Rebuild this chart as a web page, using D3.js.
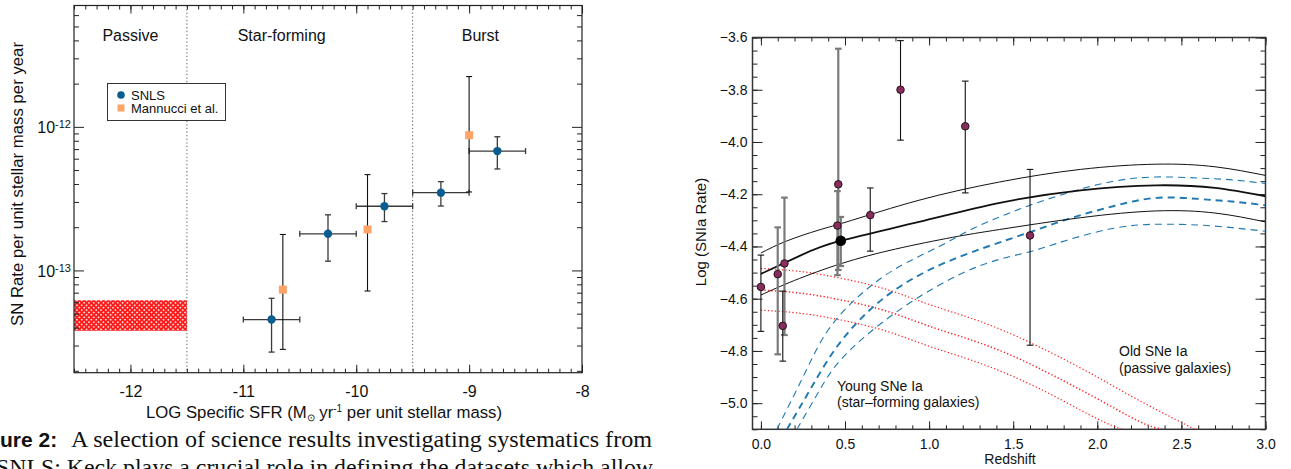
<!DOCTYPE html>
<html>
<head>
<meta charset="utf-8">
<script src="https://cdn.jsdelivr.net/npm/d3@7"></script>
<style>
  body { margin: 0; background: #fff; }
  svg { display: block; }
  text { font-family: "Liberation Sans", Arial, sans-serif; fill: #111; }
</style>
</head>
<body>
<svg width="1291" height="469"></svg>
<script>
// ---- Left panel data: SN rate per unit stellar mass vs specific SFR ----
const snlsSsfr   = [-10.75, -10.25, -9.75, -9.25, -8.75];
const snlsBinLo  = [-11.0, -10.5, -10.0, -9.5, -9.0];
const snlsBinHi  = [-10.5, -10.0, -9.5, -9.0, -8.5];
const snlsRate   = [4.55e-14, 1.80e-13, 2.80e-13, 3.48e-13, 6.78e-13];
const snlsHi     = [6.4e-14, 2.44e-13, 3.43e-13, 4.15e-13, 8.53e-13];
const snlsLo     = [2.7e-14, 1.16e-13, 2.19e-13, 2.81e-13, 5.09e-13];
const mannSsfr   = [-10.65, -9.9, -9.0];
const mannRate   = [7.35e-14, 1.93e-13, 8.75e-13];
const mannHi     = [1.78e-13, 4.65e-13, 2.24e-12];
const mannLo     = [2.82e-14, 7.19e-14, 3.52e-13];
const passiveSsfr = [-12.5, -11.5];
const passiveRate = [3.8e-14, 6.2e-14];
const regionEdges = [-11.5, -9.5];
const regionNames = ["Passive", "Star-forming", "Burst"];
const regionMid   = [-12.0, -10.66, -8.9];
const xTicksL = [-12, -11, -10, -9, -8];
const yTicksL = [1e-13, 1e-12];
const yTickExpL = ["-13", "-12"];

// ---- Right panel data: SNIa rate vs redshift ----
const rateZ    = [0.0, 0.10, 0.14, 0.13, 0.46, 0.455, 0.65, 0.83, 1.215, 1.60];
const rateLog  = [-4.555, -4.506, -4.465, -4.704, -4.162, -4.32, -4.28, -3.80, -3.94, -4.358];
const rateHi   = [-4.433, -4.327, -4.213, -4.571, -3.643, -4.188, -4.176, -3.612, -3.767, -4.105];
const rateLo   = [-4.725, -4.813, -4.739, -4.839, -4.49, -4.51, -4.418, -3.993, -4.195, -4.778];
const rateGrey = [false, true, true, false, true, true, false, false, false, false];
const snlsZ = [0.475], snlsLog = [-4.378], snlsLogHi = [-4.287], snlsLogLo = [-4.475];

const totalMid = [[0,-4.505],[0.24,-4.433],[0.475,-4.378],[0.94,-4.306],[1.42,-4.233],[1.9,-4.185],[2.35,-4.166],[2.7,-4.176],[3.0,-4.208]];
const totalUp  = [[0,-4.425],[0.15,-4.38],[0.34,-4.338],[0.54,-4.30],[0.94,-4.223],[1.42,-4.153],[1.9,-4.105],[2.35,-4.085],[2.7,-4.095],[3.0,-4.128]];
const totalLow = [[0,-4.586],[0.2,-4.53],[0.48,-4.465],[0.8,-4.41],[1.14,-4.365],[1.42,-4.335],[1.9,-4.29],[2.35,-4.264],[2.7,-4.272],[3.0,-4.306]];
const youngUp  = [[0.095,-5.10],[0.25,-4.90],[0.40,-4.72],[0.60,-4.58],[0.82,-4.478],[1.06,-4.40],[1.24,-4.338],[1.42,-4.287],[1.60,-4.242],[1.85,-4.19],[2.1,-4.15],[2.35,-4.134],[2.6,-4.138],[2.8,-4.145],[3.0,-4.159]];
const youngMid = [[0.155,-5.10],[0.30,-4.94],[0.48,-4.76],[0.74,-4.593],[1.04,-4.478],[1.34,-4.402],[1.60,-4.345],[1.85,-4.29],[2.1,-4.245],[2.35,-4.214],[2.6,-4.218],[2.8,-4.228],[3.0,-4.242]];
const youngLow = [[0.214,-5.10],[0.34,-4.96],[0.48,-4.83],[0.74,-4.682],[1.04,-4.555],[1.34,-4.465],[1.60,-4.42],[1.82,-4.376],[2.1,-4.33],[2.35,-4.315],[2.6,-4.318],[2.8,-4.328],[3.0,-4.342]];
const oldUp    = [[0,-4.484],[0.25,-4.497],[0.5,-4.525],[0.75,-4.565],[1.0,-4.622],[1.25,-4.675],[1.5,-4.738],[1.75,-4.815],[2.0,-4.90],[2.25,-4.99],[2.58,-5.10]];
const oldMid   = [[0,-4.567],[0.25,-4.58],[0.5,-4.608],[0.75,-4.648],[1.0,-4.705],[1.25,-4.758],[1.5,-4.82],[1.75,-4.898],[2.0,-4.983],[2.25,-5.07],[2.385,-5.10]];
const oldLow   = [[0,-4.644],[0.25,-4.657],[0.5,-4.685],[0.75,-4.725],[1.0,-4.782],[1.25,-4.835],[1.5,-4.898],[1.75,-4.975],[2.0,-5.06],[2.147,-5.10]];
const xTicksR = [0, 0.5, 1.0, 1.5, 2.0, 2.5, 3.0];
const yTicksR = [-5.0, -4.8, -4.6, -4.4, -4.2, -4.0, -3.8, -3.6];

const svg = d3.select("svg");
const defs = svg.append("defs");

// Scale the font of a label so it spans a given width.
function fitWidth (sel, w) {
    let n = sel.node().getComputedTextLength();
    sel.attr("font-size", parseFloat(sel.attr("font-size")) * w / n);
}

// Draw a set of inward ticks, without the axis line.
function tickAxis (g, axis, values, size, fmt, pad) {
    g.call(axis.tickValues(values).tickSize(-size).tickSizeOuter(0)
        .tickFormat(fmt).tickPadding(pad));
    g.select(".domain").remove();
    g.selectAll(".tick line").attr("stroke", "#222").attr("stroke-width", 1);
}

// =================== LEFT PANEL ===================
const xL = d3.scaleLinear().domain([-12.5, -8]).range([74, 582]);
const yL = d3.scaleLog().domain([1.94e-14, 7.0e-12]).range([372.7, 5.5]);
const left = svg.append("g");

// Crosshatched band for passive galaxies.
let pat = defs.append("pattern").attr("id", "hatch").attr("patternUnits", "userSpaceOnUse")
    .attr("width", 3.4).attr("height", 3.4).attr("patternTransform", "rotate(45)");
pat.append("rect").attr("width", 3.4).attr("height", 3.4).attr("fill", "#ff1a1a");
pat.append("rect").attr("x", 0.9).attr("y", 0.9).attr("width", 1.5).attr("height", 1.5).attr("fill", "#fff");
left.append("rect")
    .attr("x", xL(passiveSsfr[0])).attr("y", yL(passiveRate[1]))
    .attr("width", xL(passiveSsfr[1]) - xL(passiveSsfr[0]))
    .attr("height", yL(passiveRate[0]) - yL(passiveRate[1]))
    .attr("fill", "url(#hatch)");

// Dotted region boundaries.
left.selectAll(".edge").data(regionEdges).enter().append("line")
    .attr("x1", d => xL(d)).attr("x2", d => xL(d))
    .attr("y1", yL.range()[1]).attr("y2", yL.range()[0])
    .attr("stroke", "#555").attr("stroke-width", 1).attr("stroke-dasharray", "1.2,2.4");

left.selectAll(".region").data(regionNames).enter().append("text")
    .attr("x", (d, i) => xL(regionMid[i])).attr("y", 40.5)
    .attr("text-anchor", "middle").attr("font-size", 16).text(d => d);

// Axes with inward ticks on all four sides.
const minorXL = d3.range(-125, -79).map(d => d / 10);
const minorYL = [];
[1e-14, 1e-13, 1e-12].forEach(dec => { for (let k = 2; k <= 9; k++) if (k * dec < 7e-12 && k * dec > 1.94e-14) minorYL.push(k * dec); });
tickAxis(left.append("g").attr("transform", "translate(0,372.7)"), d3.axisBottom(xL), xTicksL, 8, d => String(d), 12.5);
tickAxis(left.append("g").attr("transform", "translate(0,372.7)"), d3.axisBottom(xL), minorXL, 4, "", 0);
tickAxis(left.append("g").attr("transform", "translate(0,5.5)"), d3.axisTop(xL), xTicksL, 8, "", 0);
tickAxis(left.append("g").attr("transform", "translate(0,5.5)"), d3.axisTop(xL), minorXL, 4, "", 0);
let gyl = left.append("g").attr("transform", "translate(74,0)");
tickAxis(gyl, d3.axisLeft(yL), yTicksL, 10, "", 0);
tickAxis(left.append("g").attr("transform", "translate(74,0)"), d3.axisLeft(yL), minorYL, 5, "", 0);
tickAxis(left.append("g").attr("transform", "translate(582,0)"), d3.axisRight(yL), yTicksL, 10, "", 0);
tickAxis(left.append("g").attr("transform", "translate(582,0)"), d3.axisRight(yL), minorYL, 5, "", 0);
left.selectAll("g .tick text").attr("font-size", 16).attr("fill", "#111");
gyl.selectAll(".tick").each(function (d, i) {
    let t = d3.select(this).append("text").attr("x", -3).attr("dy", "0.36em")
        .attr("text-anchor", "end").attr("font-size", 16).attr("fill", "#111");
    t.append("tspan").text("10");
    t.append("tspan").attr("dy", "-0.45em").attr("font-size", 11).text(yTickExpL[i]);
});
left.append("rect").attr("x", 74).attr("y", 5.5).attr("width", 508).attr("height", 367.2)
    .attr("fill", "none").attr("stroke", "#222").attr("stroke-width", 1.2);

// Error bars (horizontal bin width + vertical uncertainty) for SNLS.
const errL = left.append("g").attr("stroke", "#3a3a3a").attr("stroke-width", 1.3).attr("fill", "none");
snlsSsfr.forEach((s, i) => {
    let x = xL(s), y = yL(snlsRate[i]);
    errL.append("line").attr("x1", xL(snlsBinLo[i])).attr("x2", xL(snlsBinHi[i])).attr("y1", y).attr("y2", y);
    errL.append("line").attr("x1", xL(snlsBinLo[i])).attr("x2", xL(snlsBinLo[i])).attr("y1", y - 3).attr("y2", y + 3);
    errL.append("line").attr("x1", xL(snlsBinHi[i])).attr("x2", xL(snlsBinHi[i])).attr("y1", y - 3).attr("y2", y + 3);
    errL.append("line").attr("x1", x).attr("x2", x).attr("y1", yL(snlsHi[i])).attr("y2", yL(snlsLo[i]));
    [snlsHi[i], snlsLo[i]].forEach(v => errL.append("line").attr("x1", x - 3).attr("x2", x + 3).attr("y1", yL(v)).attr("y2", yL(v)));
});
const errM = left.append("g").attr("stroke", "#111").attr("stroke-width", 1.1);
mannSsfr.forEach((s, i) => {
    let x = xL(s);
    errM.append("line").attr("x1", x).attr("x2", x).attr("y1", yL(mannHi[i])).attr("y2", yL(mannLo[i]));
    [mannHi[i], mannLo[i]].forEach(v => errM.append("line").attr("x1", x - 3).attr("x2", x + 3).attr("y1", yL(v)).attr("y2", yL(v)));
});
left.selectAll(".mann").data(mannSsfr).enter().append("rect")
    .attr("x", d => xL(d) - 4).attr("y", (d, i) => yL(mannRate[i]) - 4)
    .attr("width", 8).attr("height", 8).attr("fill", "#ffa366");
left.selectAll(".snls").data(snlsSsfr).enter().append("circle")
    .attr("cx", d => xL(d)).attr("cy", (d, i) => yL(snlsRate[i]))
    .attr("r", 4.2).attr("fill", "#0b5d8f");

// Legend.
left.append("rect").attr("x", 107.5).attr("y", 83.5).attr("width", 118).attr("height", 37)
    .attr("fill", "#fff").attr("stroke", "#333").attr("stroke-width", 1);
left.append("circle").attr("cx", 121).attr("cy", 95).attr("r", 3.8).attr("fill", "#0b5d8f");
left.append("rect").attr("x", 117.5).attr("y", 104.5).attr("width", 7).attr("height", 7).attr("fill", "#ffa366");
left.append("text").attr("x", 131).attr("y", 99.5).attr("font-size", 13).text("SNLS");
left.append("text").attr("x", 131).attr("y", 112.5).attr("font-size", 13).text("Mannucci et al.");

// Axis titles.
let yTitleL = left.append("text").attr("transform", "translate(23,184) rotate(-90)")
    .attr("text-anchor", "middle").attr("font-size", 16).text("SN Rate per unit stellar mass per year");
fitWidth(yTitleL, 284);
let xTitleL = left.append("text").attr("x", 324).attr("y", 417.7).attr("text-anchor", "middle").attr("font-size", 15);
xTitleL.append("tspan").text("LOG Specific SFR (M");
xTitleL.append("tspan").attr("font-size", 10).attr("dy", 3).text("\u2299");
xTitleL.append("tspan").attr("dy", -3).text(" yr");
xTitleL.append("tspan").attr("font-size", 10).attr("dy", -6).text("-1");
xTitleL.append("tspan").attr("dy", 6).text(" per unit stellar mass)");
fitWidth(xTitleL, 358);

// =================== RIGHT PANEL ===================
const xR = d3.scaleLinear().domain([-0.05, 3.0]).range([752.5, 1265.5]);
const yR = d3.scaleLinear().domain([-5.1, -3.6]).range([429.3, 37.5]);
const right = svg.append("g");
defs.append("clipPath").attr("id", "clipR").append("rect")
    .attr("x", 752.5).attr("y", 37.5).attr("width", 513).attr("height", 391.8);

const minorXR = d3.range(0, 31).map(d => d / 10);
const minorYR = d3.range(-102, -71).map(d => d / 20);
tickAxis(right.append("g").attr("transform", "translate(0,429.3)"), d3.axisBottom(xR), xTicksR, 8, d3.format(".1f"), 9.3);
tickAxis(right.append("g").attr("transform", "translate(0,429.3)"), d3.axisBottom(xR), minorXR, 4, "", 0);
tickAxis(right.append("g").attr("transform", "translate(0,37.5)"), d3.axisTop(xR), xTicksR, 8, "", 0);
tickAxis(right.append("g").attr("transform", "translate(0,37.5)"), d3.axisTop(xR), minorXR, 4, "", 0);
tickAxis(right.append("g").attr("transform", "translate(752.5,0)"), d3.axisLeft(yR), yTicksR, 10, d3.format(".1f"), 5);
tickAxis(right.append("g").attr("transform", "translate(752.5,0)"), d3.axisLeft(yR), minorYR, 5, "", 0);
tickAxis(right.append("g").attr("transform", "translate(1265.5,0)"), d3.axisRight(yR), yTicksR, 10, "", 0);
tickAxis(right.append("g").attr("transform", "translate(1265.5,0)"), d3.axisRight(yR), minorYR, 5, "", 0);
right.selectAll("g .tick text").attr("font-size", 14).attr("fill", "#111");
right.append("rect").attr("x", 752.5).attr("y", 37.5).attr("width", 513).attr("height", 391.8)
    .attr("fill", "none").attr("stroke", "#333").attr("stroke-width", 1.5);

// Model curves: total (solid), young (blue dashed), old (red dotted).
const line = d3.line().x(d => xR(d[0])).y(d => yR(d[1])).curve(d3.curveNatural);
const curves = right.append("g").attr("clip-path", "url(#clipR)").attr("fill", "none");
[[oldUp, 1.2], [oldMid, 1.5], [oldLow, 1.2]].forEach(c => curves.append("path").attr("d", line(c[0]))
    .attr("stroke", "#ff2020").attr("stroke-width", c[1]).attr("stroke-dasharray", "1.3,2.2"));
[[youngUp, 1.1], [youngMid, 1.9], [youngLow, 1.1]].forEach(c => curves.append("path").attr("d", line(c[0]))
    .attr("stroke", "#1f78b0").attr("stroke-width", c[1]).attr("stroke-dasharray", "7,5"));
[[totalUp, 1.0], [totalMid, 1.8], [totalLow, 1.0]].forEach(c => curves.append("path").attr("d", line(c[0]))
    .attr("stroke", "#111").attr("stroke-width", c[1]));

// Error bars for the rate measurements.
const errR = right.append("g");
function errBar (z, hi, lo, col, w) {
    let x = xR(z);
    errR.append("line").attr("x1", x).attr("x2", x).attr("y1", yR(hi)).attr("y2", yR(lo))
        .attr("stroke", col).attr("stroke-width", w);
    [hi, lo].forEach(v => errR.append("line").attr("x1", x - 3.3).attr("x2", x + 3.3)
        .attr("y1", yR(v)).attr("y2", yR(v)).attr("stroke", col).attr("stroke-width", w));
}
rateZ.forEach((z, i) => errBar(z, rateHi[i], rateLo[i], rateGrey[i] ? "#7a7a7a" : "#111", rateGrey[i] ? 2.2 : 1.1));
snlsZ.forEach((z, i) => errBar(z, snlsLogHi[i], snlsLogLo[i], "#7a7a7a", 2.2));
right.selectAll(".pt").data(rateZ).enter().append("circle")
    .attr("cx", d => xR(d)).attr("cy", (d, i) => yR(rateLog[i]))
    .attr("r", 3.8).attr("fill", "#8b2c5e").attr("stroke", "#111").attr("stroke-width", 0.9);
right.selectAll(".big").data(snlsZ).enter().append("circle")
    .attr("cx", d => xR(d)).attr("cy", (d, i) => yR(snlsLog[i]))
    .attr("r", 5.3).attr("fill", "#000");

// Annotations.
right.append("text").attr("x", 837).attr("y", 391).attr("font-size", 14).text("Young SNe Ia");
right.append("text").attr("x", 837).attr("y", 406.5).attr("font-size", 14).text("(star\u2013forming galaxies)");
right.append("text").attr("x", 1119).attr("y", 356).attr("font-size", 14).text("Old SNe Ia");
right.append("text").attr("x", 1119).attr("y", 372.5).attr("font-size", 14).text("(passive galaxies)");

right.append("text").attr("transform", "translate(706,232) rotate(-90)")
    .attr("text-anchor", "middle").attr("font-size", 15).text("Log (SNIa Rate)");
right.append("text").attr("x", 1010).attr("y", 463.5).attr("text-anchor", "middle")
    .attr("font-size", 14).text("Redshift");

// =================== CAPTION (cut off at the edges) ===================
svg.append("text").attr("x", 0).attr("y", 446.7).attr("font-size", 21).attr("font-weight", "bold")
    .text("ure 2:");
svg.append("text").attr("x", 71).attr("y", 446.7).attr("font-size", 23.5)
    .style("font-family", "'Liberation Serif', 'DejaVu Serif', serif")
    .attr("textLength", 581).attr("lengthAdjust", "spacingAndGlyphs")
    .text("A selection of science results investigating systematics from");
svg.append("text").attr("x", -4).attr("y", 475).attr("font-size", 23.5)
    .style("font-family", "'Liberation Serif', 'DejaVu Serif', serif")
    .attr("textLength", 657).attr("lengthAdjust", "spacingAndGlyphs")
    .text("SNLS: Keck plays a crucial role in defining the datasets which allow");
</script>
</body>
</html>
